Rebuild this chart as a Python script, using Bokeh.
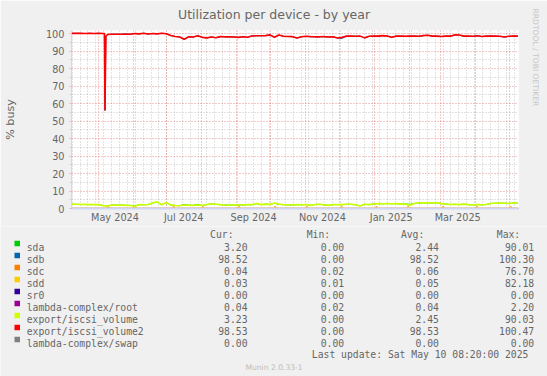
import pandas as pd
from bokeh.plotting import figure
from bokeh.layouts import column
from bokeh.models import Range1d, FixedTicker, DatetimeTickFormatter, Title
from bokeh.core.properties import value
from bokeh.embed import file_html
from bokeh.resources import INLINE

# ---------------- data ----------------
START = "2024-04-07 10:00"
END = "2025-05-08 22:00"
sample_dates = pd.date_range(START, periods=100, freq="4D")

sda = [2.4, 2.4, 2.3, 2.3, 2.2, 2.3, 2.2, 1.7,
       1.5, 2.0, 1.9, 2.0, 1.8, 1.8, 1.4, 2.2,
       2.1, 2.3, 3.1, 3.7, 2.1, 3.3, 2.0, 1.7,
       1.6, 2.3, 1.9, 1.8, 2.3, 1.7, 2.3, 2.6,
       2.4, 2.2, 2.0, 1.9, 2.1, 2.0, 2.0, 2.2,
       2.1, 2.8, 2.2, 2.5, 2.3, 3.0, 2.4, 2.2,
       2.1, 2.0, 2.2, 2.1, 2.3, 1.8, 2.3, 2.4,
       2.1, 1.8, 2.2, 2.3, 2.2, 2.4, 2.4, 2.1,
       1.5, 2.4, 2.2, 2.6, 2.8, 2.7, 2.9, 2.7,
       2.8, 2.5, 2.6, 2.4, 2.9, 3.1, 3.2, 3.2,
       3.1, 3.3, 2.8, 2.6, 2.3, 2.4, 2.2, 2.5,
       2.2, 2.1, 2.2, 2.1, 2.3, 2.9, 3.0, 3.1,
       3.0, 2.9, 3.1, 3.2]
iscsi_volume = [2.5, 2.4, 2.3, 2.4, 2.2, 2.3, 2.2, 1.6,
                1.5, 2.0, 1.9, 2.0, 1.8, 1.7, 1.3, 2.2,
                2.1, 2.3, 3.2, 3.8, 2.1, 3.4, 2.0, 1.7,
                1.6, 2.0, 1.9, 1.8, 2.0, 1.7, 2.3, 2.6,
                2.4, 2.2, 2.0, 1.9, 2.1, 2.0, 2.0, 2.2,
                2.1, 2.8, 2.2, 2.5, 2.3, 3.1, 2.4, 2.2,
                2.1, 2.0, 2.2, 2.1, 2.3, 1.8, 2.3, 2.4,
                2.1, 1.8, 2.2, 2.3, 2.2, 2.4, 2.4, 2.1,
                1.4, 2.4, 2.2, 2.6, 2.8, 2.7, 2.9, 2.7,
                2.8, 2.5, 2.6, 1.8, 2.9, 3.1, 3.2, 3.2,
                3.1, 3.3, 2.8, 2.6, 2.3, 2.4, 2.2, 2.5,
                2.2, 2.1, 2.2, 2.1, 2.3, 2.9, 3.0, 3.1,
                3.0, 2.9, 3.1, 3.3]
iscsi_volume2 = [100.1, 100.1, 100.1, 100.0, 100.1, 100.0, 100.1, 100.0,
                 99.4, 99.6, 99.6, 99.6, 99.7, 99.6, 100.0, 99.8,
                 100.1, 99.7, 100.0, 99.8, 100.1, 99.9, 98.9, 98.3,
                 98.0, 96.7, 98.1, 98.0, 98.7, 97.8, 97.5, 98.0,
                 97.6, 98.2, 98.1, 98.1, 98.0, 97.8, 98.1, 97.9,
                 98.6, 98.7, 98.7, 98.8, 99.2, 97.9, 99.1, 98.4,
                 98.3, 98.2, 97.4, 98.1, 98.4, 98.2, 98.1, 98.1,
                 98.2, 98.0, 98.1, 97.4, 97.8, 98.5, 98.5, 98.4,
                 98.5, 97.5, 98.4, 98.5, 98.5, 98.8, 98.6, 97.9,
                 98.5, 98.5, 98.4, 98.5, 98.5, 98.4, 98.8, 99.0,
                 98.5, 98.5, 98.3, 98.5, 98.5, 99.2, 99.1, 98.5,
                 98.5, 98.4, 98.7, 98.3, 98.5, 98.6, 98.5, 98.4,
                 98.0, 98.4, 98.6, 98.5]
sdb = [100.1, 100.1, 100.1, 100.0, 100.1, 100.0, 100.1, 100.0,
       99.4, 99.6, 99.6, 99.6, 99.7, 99.6, 100.0, 99.8,
       100.1, 99.7, 100.0, 99.8, 100.1, 99.9, 98.9, 98.3,
       98.0, 96.7, 98.1, 98.0, 98.7, 97.8, 97.5, 98.0,
       97.6, 98.2, 98.1, 98.1, 98.0, 97.8, 98.1, 97.9,
       98.6, 98.7, 98.7, 98.8, 99.2, 97.9, 99.1, 98.4,
       98.3, 98.2, 97.4, 98.1, 98.4, 98.2, 98.1, 98.1,
       98.2, 98.0, 98.1, 97.4, 97.2, 98.5, 98.5, 98.4,
       98.5, 97.5, 98.4, 98.5, 98.5, 98.8, 98.6, 97.9,
       98.5, 98.5, 98.4, 98.5, 98.5, 98.4, 98.8, 99.0,
       98.5, 98.5, 98.3, 98.5, 98.5, 99.2, 99.1, 98.5,
       98.5, 98.4, 98.7, 98.3, 98.5, 98.6, 98.5, 98.4,
       98.0, 98.4, 98.6, 98.5]
# early-May outage dip (sdb and export/iscsi_volume2)
dip_dates = ["2024-05-06 15:00", "2024-05-07 03:00", "2024-05-07 22:00"]
dip_values = [100.0, 56.0, 98.4]
# monthly array-check bumps on sdc / sdd
check_dates = ["2024-05-10", "2024-06-03", "2024-07-07", "2024-08-02", "2024-09-03",
               "2024-10-05", "2024-11-02", "2024-12-03", "2025-01-03", "2025-01-31",
               "2025-03-03", "2025-04-02", "2025-05-02"]
sdc_base, sdc_peak = 0.04, 1.0
sdd_base, sdd_peak = 0.03, 0.6
flat_dates = [START, END]
sr0 = [0.0, 0.0]
root = [0.04, 0.04]
swap = [0.0, 0.0]

names = ["sda", "sdb", "sdc", "sdd", "sr0", "lambda-complex/root",
         "export/iscsi_volume", "export/iscsi_volume2", "lambda-complex/swap"]
colors = ["#00CC00", "#0066B3", "#FF8000", "#FFCC00", "#330099", "#990099",
          "#CCFF00", "#FF0000", "#808080"]
cur = ["3.20", "98.52", "0.04", "0.03", "0.00", "0.04", "3.23", "98.53", "0.00"]
mins = ["0.00", "0.00", "0.02", "0.01", "0.00", "0.02", "0.00", "0.00", "0.00"]
avgs = ["2.44", "98.52", "0.06", "0.05", "0.00", "0.04", "2.45", "98.53", "0.00"]
maxs = ["90.01", "100.30", "76.70", "82.18", "0.00", "2.20", "90.03", "100.47", "0.00"]
headers = ["Cur:", "Min:", "Avg:", "Max:"]

month_starts = ["2024-05-01", "2024-06-01", "2024-07-01", "2024-08-01", "2024-09-01",
                "2024-10-01", "2024-11-01", "2024-12-01", "2025-01-01", "2025-02-01",
                "2025-03-01", "2025-04-01", "2025-05-01"]
label_dates = ["2024-05-16", "2024-07-16", "2024-09-16", "2024-11-16",
               "2025-01-16", "2025-03-16"]
week_starts = pd.date_range("2024-04-08", END, freq="7D")
y_major = [0, 10, 20, 30, 40, 50, 60, 70, 80, 90, 100]
y_minor = [5, 15, 25, 35, 45, 55, 65, 75, 85, 95]

TITLE = "Utilization per device - by year"
YLABEL = "% busy"
LAST_UPDATE = "Last update:  Sat May 10 08:20:00 2025"
WATERMARK = "Munin 2.0.33-1"
SIGNATURE = "RRDTOOL / TOBI OETIKER"


def ms(s):
    return pd.Timestamp(s).value / 1e6


def merged(dates, vals, extra_d, extra_v):
    s = pd.Series(list(vals) + list(extra_v),
                  index=list(pd.to_datetime(dates)) + list(pd.to_datetime(extra_d)))
    return s.sort_index()


def bumps(dates, base, peak):
    d, v = [pd.Timestamp(START)], [base]
    for c in dates:
        t = pd.Timestamp(c)
        d += [t - pd.Timedelta(days=1), t, t + pd.Timedelta(days=1)]
        v += [base, peak, base]
    d.append(pd.Timestamp(END))
    v.append(base)
    return d, v


# ---------------- chart figure ----------------
W = 547
FL, FT, FR, FB = 67, 30, 518, 208
H1 = 226
H2 = 376 - H1
BG = "#F0F0F0"
AX = "#CFD6F8"
FONT_C = "#666666"

p = figure(width=W, height=H1, output_backend="svg", toolbar_location=None,
           x_axis_type="datetime",
           x_range=Range1d(pd.Timestamp(START), pd.Timestamp(END)),
           y_range=Range1d(0, (FB - FT) / 1.75),
           min_border_left=FL, min_border_right=W - FR,
           min_border_top=FT, min_border_bottom=H1 - FB)
p.frame_align = False
p.background_fill_color = "#FFFFFF"
p.border_fill_color = BG
p.outline_line_color = None

p.title = Title(text=TITLE, align="left", offset=106.5, standoff=13,
                vertical_align="top",
                text_font="DejaVu Sans", text_font_size="12.5px",
                text_font_style="normal", text_color=FONT_C)
# spacer panel next to the frame (background-coloured), then the rrdtool signature
p.add_layout(Title(text=".", standoff=5, text_font_size="7.6px",
                   text_color=BG), "right")
p.add_layout(Title(text=SIGNATURE, align="left", offset=-22, standoff=0,
                   text_font="DejaVu Sans", text_font_size="7.6px",
                   text_font_style="normal", text_color="#C6C6C6"), "right")

# y axis
p.yaxis.ticker = FixedTicker(ticks=y_major, minor_ticks=y_minor)
p.yaxis.axis_line_color = AX
p.yaxis.major_tick_out = 2
p.yaxis.major_tick_in = 0
p.yaxis.minor_tick_out = 2
p.yaxis.minor_tick_in = 0
p.yaxis.major_tick_line_color = "#EBB0B0"
p.yaxis.minor_tick_line_color = "#D0D0D0"
p.yaxis.major_label_standoff = 5
p.yaxis.major_label_text_font = "DejaVu Sans"
p.yaxis.major_label_text_font_size = "9.72px"
p.yaxis.major_label_text_color = FONT_C
p.yaxis.axis_label = YLABEL
p.yaxis.axis_label_standoff = 26
p.yaxis.axis_label_text_font = "DejaVu Sans"
p.yaxis.axis_label_text_font_size = "11.1px"
p.yaxis.axis_label_text_font_style = "normal"
p.yaxis.axis_label_text_color = FONT_C

# x axis
p.xaxis.ticker = FixedTicker(ticks=[ms(d) for d in label_dates])
p.xaxis.formatter = DatetimeTickFormatter(
    milliseconds="%b %Y", seconds="%b %Y", minsec="%b %Y", minutes="%b %Y",
    hourmin="%b %Y", hours="%b %Y", days="%b %Y", months="%b %Y", years="%b %Y",
    context=None)
p.xaxis.axis_line_color = AX
p.xaxis.axis_line_width = 2
p.xaxis.major_tick_line_color = None
p.xaxis.minor_tick_line_color = None
p.xaxis.major_tick_out = 0
p.xaxis.major_tick_in = 0
p.xaxis.major_label_standoff = 3
p.xaxis.major_label_text_font = "DejaVu Sans"
p.xaxis.major_label_text_font_size = "9.72px"
p.xaxis.major_label_text_color = FONT_C

# grids
p.ygrid.ticker = FixedTicker(ticks=y_major, minor_ticks=y_minor)
p.xgrid.ticker = FixedTicker(ticks=[ms(d) for d in month_starts],
                             minor_ticks=[ms(d) for d in week_starts])
for g in (p.xgrid, p.ygrid):
    g.grid_line_color = "#DE4F4F"
    g.grid_line_alpha = 0.62
    g.grid_line_dash = "1 2"
    g.minor_grid_line_color = "#8F8F8F"
    g.minor_grid_line_alpha = 0.5
    g.minor_grid_line_dash = "1 2"

# series (drawn in legend order)
s_sdb = merged(sample_dates, sdb, dip_dates, dip_values)
s_v2 = merged(sample_dates, iscsi_volume2, dip_dates, dip_values)
sdc_d, sdc_v = bumps(check_dates, sdc_base, sdc_peak)
sdd_d, sdd_v = bumps(check_dates, sdd_base, sdd_peak)
flat = pd.to_datetime(flat_dates)

p.line(sample_dates, sda, color=colors[0], line_width=1.0)
p.line(s_sdb.index, s_sdb.values, color=colors[1], line_width=1.0)
p.line(sdc_d, sdc_v, color=colors[2], line_width=1.5)
p.line(sdd_d, sdd_v, color=colors[3], line_width=1.5)
p.line(flat, sr0, color=colors[4], line_width=1.0)
p.line(flat, root, color=colors[5], line_width=1.0)
p.line(sample_dates, iscsi_volume, color=colors[6], line_width=1.6)
p.line(s_v2.index, s_v2.values, color=colors[7], line_width=1.6)
p.line(flat, swap, color=colors[8], line_width=1.0)

# ---------------- legend figure (pixel coordinates of the page) ----------------
q = figure(width=W, height=H2, output_backend="svg", toolbar_location=None,
           x_range=Range1d(0, W), y_range=Range1d(376, H1),
           min_border=0, x_axis_location=None, y_axis_location=None)
q.frame_align = False
q.grid.visible = False
q.outline_line_color = None
q.background_fill_color = BG
q.border_fill_color = BG

ROW0, ROWH = 246.5, 12.0
rows_y = [ROW0 + ROWH * i for i in range(len(names))]
MONO = value("DejaVu Sans Mono")
FS = value("9.72px")

q.rect(x=[16.75] * len(names), y=[r - 3.6 for r in rows_y], width=5.5, height=5.5,
       fill_color=colors, line_color=None)
q.text(x=[26.2] * len(names), y=rows_y, text=names, text_font=MONO, text_font_size=FS,
       text_color=FONT_C, text_align="left", text_baseline="alphabetic")
for xr, col in zip([247, 343.6, 438.4, 533.7], [cur, mins, avgs, maxs]):
    q.text(x=[xr] * len(col), y=rows_y, text=col, text_font=MONO, text_font_size=FS,
           text_color=FONT_C, text_align="right", text_baseline="alphabetic")
q.text(x=[233, 329.6, 423.8, 519.7], y=[234.0] * 4, text=headers, text_font=MONO,
       text_font_size=FS, text_color=FONT_C, text_align="right",
       text_baseline="alphabetic")
q.text(x=[533.7], y=[354.0], text=[LAST_UPDATE], text_font=MONO, text_font_size=FS,
       text_color=FONT_C, text_align="right", text_baseline="alphabetic")
q.text(x=[W / 2], y=[367.0], text=[WATERMARK], text_font=value("DejaVu Sans"),
       text_font_size=value("7.6px"), text_color="#BDBDBD", text_align="center",
       text_baseline="alphabetic")

layout = column(p, q, spacing=0)
open("out.html", "w").write(file_html(layout, INLINE))
